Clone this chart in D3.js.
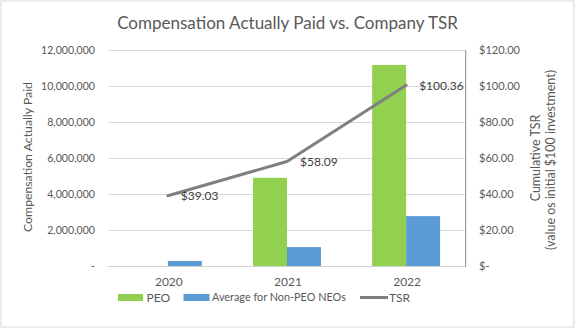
<!DOCTYPE html>
<html><head><meta charset="utf-8">
<script src="https://cdn.jsdelivr.net/npm/d3@7"></script>
<style>
html,body{margin:0;padding:0;background:#fff;}
svg text{font-family:Lato,"Open Sans",sans-serif;fill:#595959;}
</style></head>
<body><svg id="c" width="576" height="329"></svg>
<script>
const years = ["2020","2021","2022"];
const peo = [0, 4900000, 11170000];
const nonPeo = [280000, 1050000, 2770000];
const tsr = [39.03, 58.09, 100.36];
const leftTicks = [0,2000000,4000000,6000000,8000000,10000000,12000000];
const rightTicks = [0,20,40,60,80,100,120];
const seriesNames = ["PEO","Average for Non-PEO NEOs","TSR"];
const colors = {PEO:"#92D050", NEO:"#5B9BD5", TSR:"#7F7F7F"};

const svg = d3.select("#c");
svg.append("rect").attr("x",1).attr("y",1).attr("width",573).attr("height",326)
  .attr("fill","#fff").attr("stroke","#d9d9d9").attr("stroke-width",1);

const L=108.3, R=465.7, T=50, B=266;
const x0 = d3.scaleBand().domain(years).range([L,R]).paddingInner(0.43).paddingOuter(0.215);
const x1 = d3.scaleBand().domain(["PEO","NEO"]).range([0,x0.bandwidth()]);
const yL = d3.scaleLinear().domain([0,12000000]).range([B,T]);
const yR = d3.scaleLinear().domain([0,120]).range([B,T]);

function fit(sel, w){
  const n = sel.node(); let fs = parseFloat(sel.attr("font-size"));
  const cur = n.getComputedTextLength();
  if(cur>0){ sel.attr("font-size", (fs*w/cur).toFixed(2)); }
  return sel;
}

// gridlines
svg.append("g").selectAll("line").data(leftTicks).join("line")
  .attr("x1",L).attr("x2",R).attr("y1",d=>Math.round(yL(d))+0.5).attr("y2",d=>Math.round(yL(d))+0.5)
  .attr("stroke","#d9d9d9").attr("stroke-width",1);

// left axis labels
const fmt = d3.format(",");
const gl = svg.append("g").attr("transform",`translate(95,0)`)
  .call(d3.axisLeft(yL).tickValues(leftTicks).tickSize(0).tickPadding(0).tickFormat(d=>d===0?"-":fmt(d)));
gl.select(".domain").remove();
gl.selectAll("text").attr("font-size",12).attr("font-family","Lato").style("fill","#595959").attr("dy","0.35em");
{
  const top = gl.selectAll("text").filter(d=>d===12000000);
  fit(top,54);
  gl.selectAll("text").attr("font-size", top.attr("font-size"));
}

// right axis labels
const gr = svg.append("g").attr("transform",`translate(479,0)`)
  .call(d3.axisRight(yR).tickValues(rightTicks).tickSize(0).tickPadding(0).tickFormat(d=>d===0?"$-":"$"+d3.format(".2f")(d)));
gr.select(".domain").remove();
gr.selectAll("text").attr("font-size",12).attr("font-family","Lato").style("fill","#595959").attr("dy","0.35em");
{
  const top = gr.selectAll("text").filter(d=>d===120);
  fit(top,41);
  gr.selectAll("text").attr("font-size", top.attr("font-size"));
}

// bars
const grp = svg.append("g").selectAll("g").data(years).join("g")
  .attr("transform",d=>`translate(${x0(d)},0)`);
grp.append("rect").attr("x",x1("PEO")).attr("width",x1.bandwidth())
  .attr("y",(d,i)=>yL(peo[i])).attr("height",(d,i)=>B-yL(peo[i])).attr("fill",colors.PEO);
grp.append("rect").attr("x",x1("NEO")).attr("width",x1.bandwidth())
  .attr("y",(d,i)=>yL(nonPeo[i])).attr("height",(d,i)=>B-yL(nonPeo[i])).attr("fill",colors.NEO);

// bottom axis line & right axis line
svg.append("line").attr("x1",L).attr("x2",R).attr("y1",B+0.5).attr("y2",B+0.5).attr("stroke","#d0d0d0");
svg.append("line").attr("x1",R).attr("x2",R).attr("y1",T).attr("y2",B+1).attr("stroke","#8c8c8c").attr("stroke-width",1);

// TSR line
const cx = (d)=>x0(d)+x0.bandwidth()/2;
const line = d3.line().x((d,i)=>cx(years[i])).y(d=>yR(d));
svg.append("path").datum(tsr).attr("d",line).attr("fill","none")
  .attr("stroke",colors.TSR).attr("stroke-width",3).attr("stroke-linejoin","round").attr("stroke-linecap","round");
svg.append("g").selectAll("text").data(tsr).join("text")
  .attr("x",(d,i)=>cx(years[i])+13).attr("y",d=>yR(d)).attr("dy","0.35em")
  .attr("font-size",12).style("fill","#404040").text(d=>"$"+d3.format(".2f")(d));

// x labels
svg.append("g").selectAll("text").data(years).join("text")
  .attr("x",d=>cx(d)+1).attr("y",282).attr("dy","0.35em").attr("text-anchor","middle")
  .attr("font-size",12).text(d=>d);

// title
const title = svg.append("text").attr("x",287.5).attr("y",23).attr("dy","0.35em").attr("text-anchor","middle")
  .attr("font-size",18).text("Compensation Actually Paid vs. Company TSR");
fit(title, 341);

// left axis title
const lt = svg.append("text").attr("transform","translate(28,157) rotate(-90)").attr("dy","0.35em")
  .attr("text-anchor","middle").attr("font-size",12).text("Compensation Actually Paid");
fit(lt,150);

// right axis title
const rt1 = svg.append("text").attr("transform","translate(536,158) rotate(-90)").attr("dy","0.35em")
  .attr("text-anchor","middle").attr("font-size",12).text("Cumulative TSR");
const rt2 = svg.append("text").attr("transform","translate(551,160) rotate(-90)").attr("dy","0.35em")
  .attr("text-anchor","middle").attr("font-size",12).text("(value os initial $100 investment)");
fit(rt2,180);
rt1.attr("font-size", rt2.attr("font-size"));

// legend
const ly = 297.5;
const leg = svg.append("g");
leg.append("rect").attr("x",118).attr("y",ly-3.5).attr("width",25).attr("height",7).attr("fill",colors.PEO);
leg.append("text").attr("x",146.5).attr("y",ly).attr("dy","0.35em").attr("font-size",12).text(seriesNames[0]);
leg.append("rect").attr("x",183.5).attr("y",ly-3.5).attr("width",26).attr("height",7).attr("fill",colors.NEO);
const lt2 = leg.append("text").attr("x",212).attr("y",ly).attr("dy","0.35em").attr("font-size",12).text(seriesNames[1]);
fit(lt2,134);
leg.append("line").attr("x1",360).attr("x2",388).attr("y1",ly).attr("y2",ly).attr("stroke",colors.TSR).attr("stroke-width",3);
leg.append("text").attr("x",389).attr("y",ly).attr("dy","0.35em").attr("font-size",12).text(seriesNames[2]);
</script></body></html>
